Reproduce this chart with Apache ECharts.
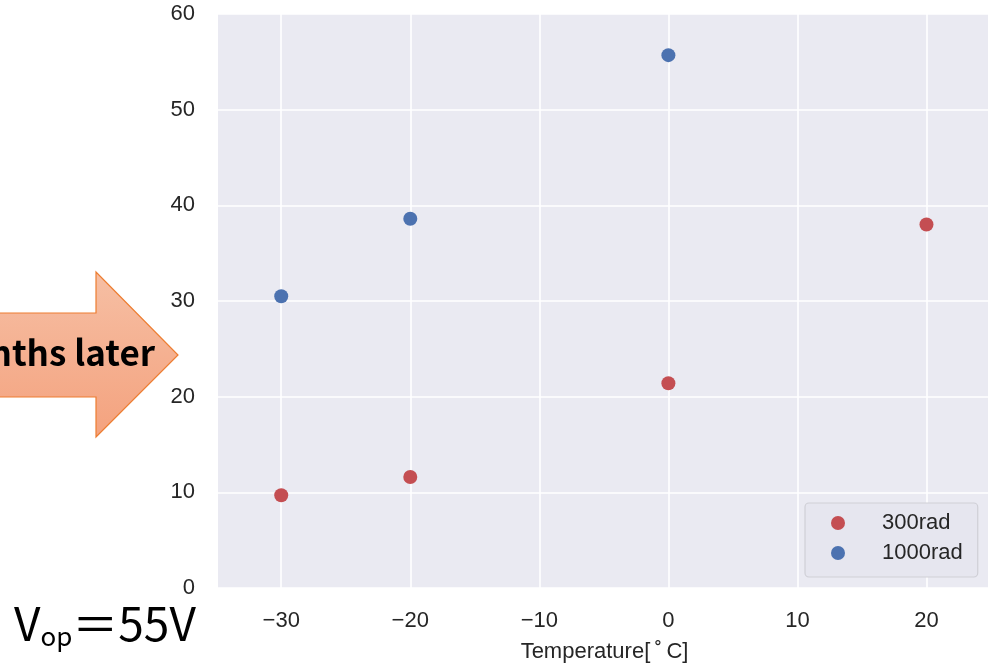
<!DOCTYPE html>
<html>
<head>
<meta charset="utf-8">
<script src="https://cdn.jsdelivr.net/npm/echarts@6/dist/echarts.min.js"></script>
<style>html,body{margin:0;padding:0;background:#fff;}#c{width:988px;height:666px;}</style>
</head>
<body>
<div id="c"></div>
<script>
const seriesNames = ['300rad', '1000rad'];
const temps300 = [-30, -20, 0, 20];
const vals300 = [9.7, 11.6, 21.4, 38.0];
const temps1000 = [-30, -20, 0];
const vals1000 = [30.5, 38.6, 55.7];
const xTicks = [-30, -20, -10, 0, 10, 20];
const yTicks = [0, 10, 20, 30, 40, 50, 60];
const colors = ['#c44e52', '#4c72b0'];

const chart = echarts.init(document.getElementById('c'), null, {renderer: 'canvas'});
const fmtMinus = v => (v < 0 ? '\u2212' + Math.abs(v) : String(v));

chart.setOption({
  animation: false,
  backgroundColor: '#ffffff',
  grid: {left: 218, top: 14, width: 773, height: 574, outerBoundsMode: 'none', containLabel: false,
    backgroundColor: '#eaeaf2', show: true, borderWidth: 0},
  xAxis: {
    type: 'value', min: -34.9, max: 25,
    axisLine: {show: false},
    axisTick: {show: false, customValues: xTicks},
    splitLine: {show: true, lineStyle: {color: '#ffffff', width: 1.6}},
    axisLabel: {
      customValues: xTicks,
      color: '#262626', fontSize: 22, fontFamily: 'Liberation Sans', margin: 22,
      formatter: v => fmtMinus(v)
    },
    name: 'Temperature[\u2009\u02da\u2009C]', nameLocation: 'middle', nameGap: 53,
    nameTextStyle: {color: '#262626', fontSize: 22, fontFamily: 'Liberation Sans'}
  },
  yAxis: {
    type: 'value', min: yTicks[0], max: yTicks[yTicks.length - 1], interval: 10,
    axisLine: {show: false}, axisTick: {show: false},
    splitLine: {show: true, lineStyle: {color: '#ffffff', width: 1.6}},
    axisLabel: {color: '#262626', fontSize: 22, fontFamily: 'Liberation Sans', margin: 23}
  },
  legend: {
    left: 805, top: 503, orient: 'vertical',
    data: seriesNames,
    icon: 'circle', itemWidth: 46, itemHeight: 14, itemGap: 8,
    padding: [9, 15, 13, 26],
    backgroundColor: '#e6e6ef', borderColor: '#cfcfd6', borderWidth: 1.2, borderRadius: 4,
    textStyle: {color: '#262626', fontSize: 22, lineHeight: 22, fontFamily: 'Liberation Sans', padding: [0, 0, 0, 16]}
  },
  series: [
    {name: seriesNames[0], type: 'scatter', symbolSize: 14, itemStyle: {color: colors[0], opacity: 1},
      data: temps300.map((t, i) => [t, vals300[i]])},
    {name: seriesNames[1], type: 'scatter', symbolSize: 14, itemStyle: {color: colors[1], opacity: 1},
      data: temps1000.map((t, i) => [t, vals1000[i]])}
  ],
  graphic: [
    {type: 'polygon', shape: {points: [[-10, 313], [96, 313], [96, 272], [178, 355], [96, 437], [96, 397], [-10, 397]]},
      style: {fill: new echarts.graphic.LinearGradient(0, 0, 0, 1, [{offset: 0, color: '#f6bfa4'}, {offset: 1, color: '#f4a27e'}]),
        stroke: '#ed7d31', lineWidth: 1.2}},
    {type: 'text', x: 155, y: 353,
      style: {text: 'months later', align: 'right', verticalAlign: 'middle', fill: '#000',
        font: 'bold 35px "Noto Sans CJK JP"'}},
    {type: 'text', x: 14, y: 624,
      style: {text: '{v|V}{s|op}{v|\uFF1D55V}', verticalAlign: 'middle',
        rich: {
          v: {fontSize: 46, fontFamily: 'Noto Sans CJK JP', color: '#000'},
          s: {fontSize: 26, fontFamily: 'Noto Sans CJK JP', color: '#000', padding: [24, 0, 0, 0]}
        }}}
  ]
});
</script>
</body>
</html>
